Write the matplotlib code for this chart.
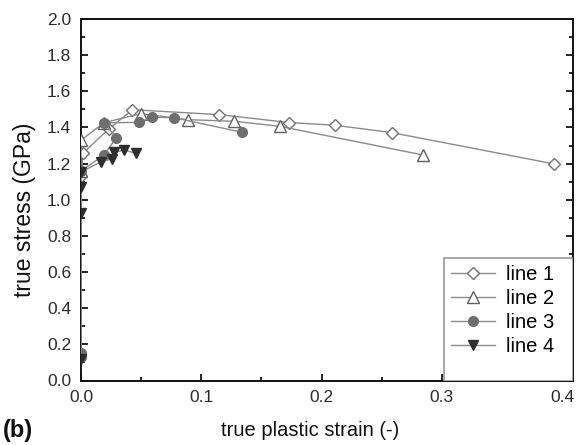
import matplotlib
matplotlib.use("Agg")
import matplotlib.pyplot as plt
from matplotlib.patches import Rectangle
from matplotlib.ticker import MultipleLocator, FormatStrFormatter

plt.rcParams['font.family'] = ['Liberation Sans', 'DejaVu Sans']

# data (true plastic strain, true stress GPa)
line1_x = [0.0, 0.0017, 0.0233, 0.0428, 0.115, 0.173, 0.2114, 0.2586, 0.3936]
line1_y = [1.13, 1.258, 1.393, 1.498, 1.471, 1.427, 1.412, 1.371, 1.198]

line2_x = [0.0, 0.0, 0.019, 0.0497, 0.089, 0.1275, 0.1656, 0.284]
line2_y = [1.16, 1.329, 1.426, 1.476, 1.443, 1.434, 1.406, 1.248]

line3_x = [0.0, 0.0, 0.0, 0.019, 0.0294, 0.019, 0.0486, 0.0589, 0.0775, 0.134]
line3_y = [0.13, 0.15, 1.16, 1.246, 1.344, 1.426, 1.428, 1.457, 1.454, 1.373]

line4_x = [0.0, 0.0, 0.0, 0.0, 0.0164, 0.026, 0.0275, 0.0358, 0.0456]
line4_y = [0.12, 0.924, 1.071, 1.154, 1.209, 1.227, 1.264, 1.274, 1.258]

labels = ["line 1", "line 2", "line 3", "line 4"]

fig = plt.figure(figsize=(5.82, 4.45), dpi=100)
ax = fig.add_axes([81/582, 1-380.5/445, 492/582, 361.5/445])

lc = '#8a8a8a'
ax.plot(line1_x, line1_y, color=lc, lw=1.0, marker='D', ms=6.5, mfc='white',
        mec='#707070', mew=1.0, label=labels[0], zorder=3)
ax.plot(line2_x, line2_y, color=lc, lw=1.0, marker='^', ms=8, mfc='white',
        mec='#606060', mew=1.0, label=labels[1], zorder=3)
ax.plot(line3_x, line3_y, color=lc, lw=1.0, marker='o', ms=7, mfc='#6e6e6e',
        mec='#6e6e6e', label=labels[2], zorder=4)
ax.plot(line4_x, line4_y, color=lc, lw=1.0, marker='v', ms=7.5, mfc='#2e2e2e',
        mec='#2e2e2e', label=labels[3], zorder=5)

ax.set_xlim(0, 0.409)
ax.set_ylim(0, 2.0)
ax.xaxis.set_major_locator(MultipleLocator(0.1))
ax.xaxis.set_minor_locator(MultipleLocator(0.05))
ax.yaxis.set_major_locator(MultipleLocator(0.2))
ax.yaxis.set_minor_locator(MultipleLocator(0.1))
ax.xaxis.set_major_formatter(FormatStrFormatter('%.1f'))
ax.yaxis.set_major_formatter(FormatStrFormatter('%.1f'))
ax.tick_params(which='both', direction='in', top=False, right=True,
               labelsize=12.5, labelcolor='#2a2a2a', width=1.2, pad=7)
ax.tick_params(which='major', length=5)
ax.tick_params(which='minor', length=3)
for s in ax.spines.values():
    s.set_linewidth(1.4)
    s.set_color('#111111')

# legend box
ax.add_patch(Rectangle((0.738, 0.0), 0.262, 0.339, transform=ax.transAxes,
                       facecolor='white', edgecolor='#9a9a9a', lw=1.2, zorder=6))
leg = ax.legend(loc='upper left', bbox_to_anchor=(0.738, 0.339), frameon=False,
                fontsize=14.5, handlelength=2.2, handletextpad=0.5,
                labelspacing=0.25, borderpad=0.35, borderaxespad=0.0)
leg.set_zorder(7)

fig.text(25/582, 1-210/445, 'true stress (GPa)', rotation=90, ha='center',
         va='center', fontsize=16.5, color='#111111')
fig.text(310/582, 1-431/445, 'true plastic strain (-)', ha='center',
         va='center', fontsize=14.5, color='#111111')
fig.text(3/582, 1-431/445, '(b)', ha='left', va='center', fontsize=17,
         fontweight='bold', color='#111111')

fig.savefig('out.png', dpi=100)
